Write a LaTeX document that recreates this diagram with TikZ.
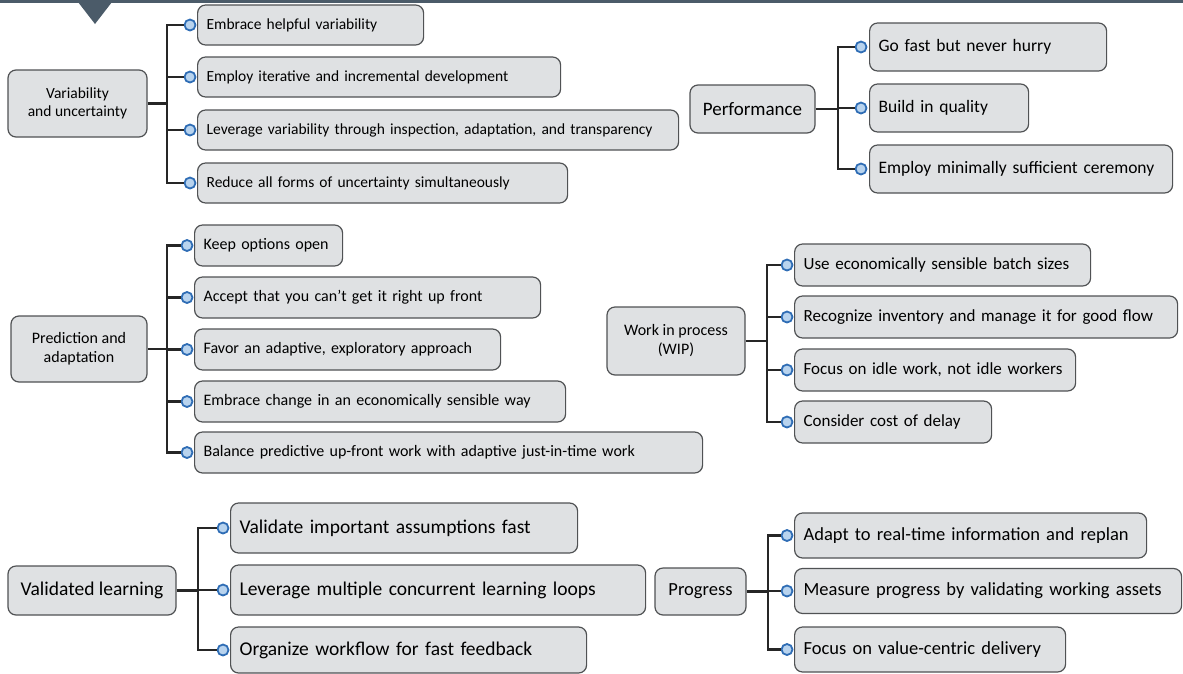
\documentclass[tikz,border=0pt]{standalone}
\usepackage{fontspec}
\setmainfont{Carlito}
\definecolor{boxfill}{HTML}{DFE1E3}
\definecolor{boxline}{HTML}{505254}
\definecolor{dotline}{HTML}{2F6DB5}
\definecolor{dotfill}{HTML}{B8D3EE}
\definecolor{topbar}{HTML}{4B5B69}
\begin{document}
\begin{tikzpicture}[x=1pt,y=-1pt]
  \tikzstyle{root}=[draw=boxline,fill=boxfill,rounded corners=8pt,line width=1.2pt,align=center,inner sep=0pt]
  \tikzstyle{leaf}=[draw=boxline,fill=boxfill,rounded corners=8pt,line width=1.2pt,anchor=west,inner xsep=9pt,inner ysep=0pt,align=left]
  \tikzstyle{dot}=[circle,draw=dotline,fill=dotfill,line width=1.8pt,minimum size=11pt,inner sep=0pt]
  \tikzstyle{edge}=[draw,line width=2.6pt,black!85]
  \useasboundingbox (0,0) rectangle (1183,673);
  \fill[topbar] (0,0) rectangle (1183,3);
  \fill[topbar] (78,2) -- (112,2) -- (95,24) -- cycle;
  % variability and uncertainty
  \begin{scope}[font=\fontsize{15.5}{18}\selectfont]
    \node[root,minimum width=139pt,minimum height=67pt] (vu) at (77.5,103.5) {Variability\\and uncertainty};
    \node[leaf,text width=208pt,minimum height=40pt] (vu1) at (197,25) {Embrace helpful variability};
    \node[leaf,text width=345pt,minimum height=40pt] (vu2) at (197,77) {Employ iterative and incremental development};
    \node[leaf,text width=463pt,minimum height=40pt] (vu3) at (197,130) {Leverage variability through inspection, adaptation, and transparency};
    \node[leaf,text width=352pt,minimum height=40pt] (vu4) at (197,183) {Reduce all forms of uncertainty simultaneously};
    \node[dot] (vu1d) at (190,25) {};
    \node[dot] (vu2d) at (190,77) {};
    \node[dot] (vu3d) at (190,130) {};
    \node[dot] (vu4d) at (190,183) {};
    \coordinate (vuj) at (167,103.5);
    \path[edge] (vu.east) -- (vuj);
    \path[edge] (vuj) |- (vu1d);
    \path[edge] (vuj) |- (vu2d);
    \path[edge] (vuj) |- (vu3d);
    \path[edge] (vuj) |- (vu4d);
  \end{scope}
  % performance
  \begin{scope}[font=\fontsize{17.5}{20}\selectfont]
    \node[root,minimum width=125pt,minimum height=48pt,font=\fontsize{19}{22}\selectfont] (pf) at (752.5,109) {Performance};
    \node[leaf,text width=219pt,minimum height=48pt] (pf1) at (869,47) {Go fast but never hurry};
    \node[leaf,text width=141pt,minimum height=48pt] (pf2) at (869,108) {Build in quality};
    \node[leaf,text width=285pt,minimum height=48pt] (pf3) at (869,169) {Employ minimally sufficient ceremony};
    \node[dot] (pf1d) at (861,47) {};
    \node[dot] (pf2d) at (861,108) {};
    \node[dot] (pf3d) at (861,169) {};
    \coordinate (pfj) at (838,109);
    \path[edge] (pf.east) -- (pfj);
    \path[edge] (pfj) |- (pf1d);
    \path[edge] (pfj) |- (pf2d);
    \path[edge] (pfj) |- (pf3d);
  \end{scope}
  % prediction and adaptation
  \begin{scope}[font=\fontsize{16}{19}\selectfont]
    \node[root,minimum width=136pt,minimum height=66pt] (pa) at (79,349) {Prediction and\\adaptation};
    \node[leaf,text width=130pt,minimum height=41pt] (pa1) at (194,245.5) {Keep options open};
    \node[leaf,text width=328pt,minimum height=41pt] (pa2) at (194,297.5) {Accept that you can't get it right up front};
    \node[leaf,text width=288pt,minimum height=41pt] (pa3) at (194,349.5) {Favor an adaptive, exploratory approach};
    \node[leaf,text width=353pt,minimum height=41pt] (pa4) at (194,401.5) {Embrace change in an economically sensible way};
    \node[leaf,text width=490pt,minimum height=41pt] (pa5) at (194,452.5) {Balance predictive up-front work with adaptive just-in-time work};
    \node[dot] (pa1d) at (187,245.5) {};
    \node[dot] (pa2d) at (187,297.5) {};
    \node[dot] (pa3d) at (187,349.5) {};
    \node[dot] (pa4d) at (187,401.5) {};
    \node[dot] (pa5d) at (187,452.5) {};
    \coordinate (paj) at (167,349);
    \path[edge] (pa.east) -- (paj);
    \path[edge] (paj) |- (pa1d);
    \path[edge] (paj) |- (pa2d);
    \path[edge] (paj) |- (pa3d);
    \path[edge] (paj) |- (pa4d);
    \path[edge] (paj) |- (pa5d);
  \end{scope}
  % work in process
  \begin{scope}[font=\fontsize{17}{19}\selectfont]
    \node[root,minimum width=138pt,minimum height=68pt,font=\fontsize{16}{19}\selectfont] (wp) at (676,341) {Work in process\\(WIP)};
    \node[leaf,text width=278pt,minimum height=42pt] (wp1) at (794,265) {Use economically sensible batch sizes};
    \node[leaf,text width=365pt,minimum height=42pt] (wp2) at (794,317) {Recognize inventory and manage it for good flow};
    \node[leaf,text width=263pt,minimum height=42pt] (wp3) at (794,370) {Focus on idle work, not idle workers};
    \node[leaf,text width=179pt,minimum height=42pt] (wp4) at (794,422) {Consider cost of delay};
    \node[dot] (wp1d) at (787,265) {};
    \node[dot] (wp2d) at (787,317) {};
    \node[dot] (wp3d) at (787,370) {};
    \node[dot] (wp4d) at (787,422) {};
    \coordinate (wpj) at (767,341);
    \path[edge] (wp.east) -- (wpj);
    \path[edge] (wpj) |- (wp1d);
    \path[edge] (wpj) |- (wp2d);
    \path[edge] (wpj) |- (wp3d);
    \path[edge] (wpj) |- (wp4d);
  \end{scope}
  % validated learning
  \begin{scope}[font=\fontsize{19.5}{22}\selectfont]
    \node[root,minimum width=168pt,minimum height=49pt] (vl) at (92,590.5) {Validated learning};
    \node[leaf,text width=329pt,minimum height=50pt] (vl1) at (230,528) {Validate important assumptions fast};
    \node[leaf,text width=397pt,minimum height=50pt] (vl2) at (230,590) {Leverage multiple concurrent learning loops};
    \node[leaf,text width=338pt,minimum height=46pt] (vl3) at (230,650) {Organize workflow for fast feedback};
    \node[dot] (vl1d) at (223,528) {};
    \node[dot] (vl2d) at (223,590) {};
    \node[dot] (vl3d) at (223,650) {};
    \coordinate (vlj) at (198,590.5);
    \path[edge] (vl.east) -- (vlj);
    \path[edge] (vlj) |- (vl1d);
    \path[edge] (vlj) |- (vl2d);
    \path[edge] (vlj) |- (vl3d);
  \end{scope}
  % progress
  \begin{scope}[font=\fontsize{18.5}{21}\selectfont]
    \node[root,minimum width=91pt,minimum height=47pt] (pg) at (700.5,591.5) {Progress};
    \node[leaf,text width=334pt,minimum height=45pt] (pg1) at (794,535.5) {Adapt to real-time information and replan};
    \node[leaf,text width=369pt,minimum height=45pt] (pg2) at (794,591) {Measure progress by validating working assets};
    \node[leaf,text width=253pt,minimum height=45pt] (pg3) at (794,649.5) {Focus on value-centric delivery};
    \node[dot] (pg1d) at (787,535.5) {};
    \node[dot] (pg2d) at (787,591) {};
    \node[dot] (pg3d) at (787,649.5) {};
    \coordinate (pgj) at (768,591.5);
    \path[edge] (pg.east) -- (pgj);
    \path[edge] (pgj) |- (pg1d);
    \path[edge] (pgj) |- (pg2d);
    \path[edge] (pgj) |- (pg3d);
  \end{scope}
\end{tikzpicture}
\end{document}
